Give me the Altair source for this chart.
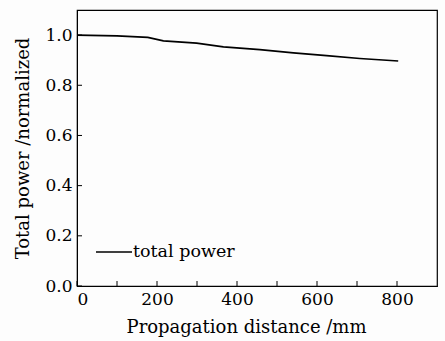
import altair as alt
import pandas as pd

distance = [0, 100, 177, 216, 299, 366, 457, 541, 624, 707, 803]
power = [1.0, 0.997, 0.991, 0.977, 0.968, 0.953, 0.942, 0.929, 0.918, 0.907, 0.897]
series = ["total power"] * len(distance)

x_ticks = [0, 100, 200, 300, 400, 500, 600, 700, 800]
y_ticks = [0.0, 0.2, 0.4, 0.6, 0.8, 1.0]

W, H = 360, 276
FONT = "DejaVu Serif"

df = pd.DataFrame({"d": distance, "p": power, "s": series})

xscale = alt.Scale(domain=[0, 900], nice=False)
yscale = alt.Scale(domain=[0, 1.1], nice=False)

line = alt.Chart(df).mark_line(strokeWidth=1.6, color="black").encode(
    x=alt.X("d:Q", scale=xscale,
            axis=alt.Axis(title="Propagation distance /mm", values=[0, 200, 400, 600, 800],
                          format="d", tickSize=0, labelPadding=5, titlePadding=11,
                          titleX=169, titleAnchor="middle")),
    y=alt.Y("p:Q", scale=yscale,
            axis=alt.Axis(title="Total power /normalized", values=y_ticks, format=".1f",
                          tickSize=0, labelPadding=5, titlePadding=12)),
    color=alt.Color("s:N", scale=alt.Scale(domain=["total power"], range=["black"]),
                    legend=alt.Legend(title=None, orient="none", legendX=18, legendY=223,
                                      symbolType="stroke", symbolSize=1300,
                                      symbolStrokeWidth=1.6, labelFontSize=17.5,
                                      labelFont=FONT, labelColor="black", labelOffset=0)),
)

xt = alt.Chart(pd.DataFrame({"t": x_ticks})).mark_rule(color="black", strokeWidth=1).encode(
    x=alt.X("t:Q", scale=xscale), y=alt.value(H), y2=alt.value(H - 5))
yt = alt.Chart(pd.DataFrame({"t": y_ticks})).mark_rule(color="black", strokeWidth=1).encode(
    y=alt.Y("t:Q", scale=yscale), x=alt.value(0), x2=alt.value(5))

chart = alt.layer(line, xt, yt).properties(
    width=W, height=H,
    background="#fdfdfd",
    autosize=alt.AutoSizeParams(type="none"),
    padding={"left": 77, "top": 10, "right": 8, "bottom": 55},
).configure_view(stroke="black", strokeWidth=1.2).configure_axis(
    labelFont=FONT, titleFont=FONT, labelFontSize=17, titleFontSize=18,
    labelColor="black", titleColor="black", titleFontWeight="normal",
    domainColor="black", grid=False,
)

chart.save("out.html", embed_options={"renderer": "svg", "actions": False})
